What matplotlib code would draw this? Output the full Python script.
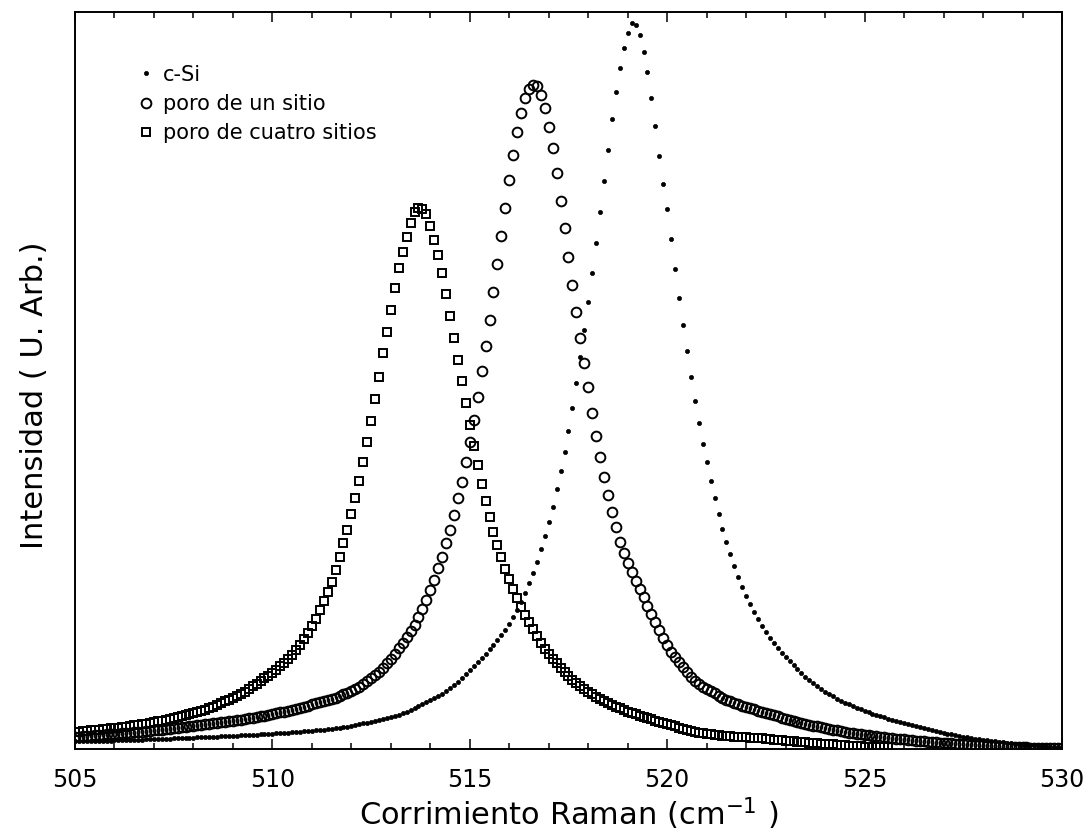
import numpy as np
import matplotlib
matplotlib.use("Agg")
import matplotlib.pyplot as plt

# Corrimiento Raman (cm-1), malla de 0.1
raman = np.round(np.arange(505.0, 530.05, 0.1), 1)

# intensidades (unidades arbitrarias)
c_si = [
    8, 8, 8, 8, 8, 8, 8, 8, 8, 8,
    9, 9, 9, 9, 9, 9, 9, 9, 10, 10,
    10, 10, 10, 10, 10, 11, 11, 11, 11, 11,
    11, 12, 12, 12, 12, 12, 12, 13, 13, 13,
    13, 13, 14, 14, 14, 14, 14, 15, 15, 15,
    15, 16, 16, 16, 16, 17, 17, 17, 18, 18,
    18, 19, 19, 19, 20, 20, 21, 21, 22, 22,
    23, 24, 25, 26, 26, 27, 28, 29, 30, 31,
    32, 33, 34, 36, 37, 39, 41, 43, 45, 47,
    49, 51, 53, 55, 58, 61, 64, 67, 71, 75,
    79, 83, 87, 91, 95, 100, 104, 109, 114, 119,
    125, 132, 139, 147, 156, 166, 176, 187, 200, 213,
    227, 242, 260, 278, 297, 318, 341, 366, 392, 419,
    447, 476, 506, 537, 568, 599, 630, 657, 681, 701,
    716, 726, 724, 714, 697, 677, 651, 623, 593, 565,
    540, 510, 480, 451, 424, 398, 372, 348, 326, 305,
    287, 268, 251, 235, 220, 207, 195, 183, 172, 162,
    153, 145, 137, 130, 123, 117, 111, 106, 101, 96,
    92, 88, 84, 80, 76, 72, 69, 66, 63, 60,
    57, 55, 53, 50, 48, 46, 45, 43, 41, 40,
    38, 37, 35, 34, 33, 32, 30, 29, 28, 27,
    26, 25, 24, 23, 22, 21, 20, 19, 18, 17,
    16, 15, 15, 14, 13, 12, 12, 11, 10, 10,
    9, 9, 8, 8, 7, 7, 6, 6, 5, 5,
    5, 4, 4, 4, 3, 3, 3, 2, 2, 2,
    2,
]

un_sitio = [
    12, 12, 13, 13, 13, 14, 14, 14, 15, 15,
    15, 15, 16, 16, 16, 17, 17, 17, 18, 18,
    19, 19, 19, 20, 20, 21, 21, 22, 22, 23,
    23, 24, 24, 25, 25, 26, 26, 27, 27, 28,
    28, 29, 29, 30, 31, 31, 32, 33, 33, 34,
    35, 36, 37, 37, 38, 39, 40, 41, 42, 43,
    45, 46, 47, 48, 49, 50, 51, 53, 55, 56,
    58, 60, 62, 65, 68, 71, 74, 77, 81, 86,
    90, 95, 101, 106, 112, 118, 124, 132, 140, 149,
    159, 169, 181, 192, 206, 219, 234, 251, 267, 287,
    307, 329, 352, 378, 403, 429, 457, 485, 513, 541,
    569, 594, 617, 636, 651, 660, 664, 663, 654, 641,
    622, 601, 576, 548, 521, 492, 464, 437, 411, 386,
    362, 336, 313, 292, 272, 254, 237, 222, 207, 196,
    186, 177, 168, 160, 152, 143, 135, 127, 119, 111,
    104, 97, 92, 87, 82, 77, 72, 68, 65, 62,
    60, 58, 56, 53, 51, 49, 48, 46, 45, 43,
    42, 41, 40, 38, 37, 36, 35, 34, 33, 31,
    30, 29, 28, 27, 26, 25, 24, 23, 23, 22,
    21, 20, 19, 19, 18, 17, 16, 16, 15, 15,
    14, 14, 13, 13, 12, 12, 11, 11, 10, 10,
    10, 9, 9, 8, 8, 8, 7, 7, 7, 6,
    6, 6, 6, 5, 5, 5, 5, 4, 4, 4,
    4, 3, 3, 3, 3, 3, 2, 2, 2, 2,
    2, 2, 1, 1, 1, 1, 1, 1, 1, 1,
    1,
]

# esta serie termina en 525.6
cuatro_sitios = [
    17, 17, 18, 18, 19, 19, 19, 20, 20, 21,
    21, 21, 22, 22, 23, 24, 24, 25, 25, 26,
    27, 28, 28, 29, 30, 31, 32, 33, 34, 35,
    36, 37, 38, 39, 41, 42, 44, 46, 48, 49,
    51, 53, 55, 57, 60, 63, 65, 68, 71, 73,
    76, 79, 83, 86, 90, 94, 99, 104, 110, 116,
    123, 130, 139, 148, 157, 167, 179, 192, 206, 219,
    235, 251, 268, 287, 307, 328, 350, 372, 396, 417,
    439, 461, 481, 497, 512, 526, 537, 541, 540, 535,
    523, 509, 494, 476, 455, 433, 411, 389, 368, 346,
    324, 303, 284, 265, 248, 232, 217, 204, 192, 180,
    170, 160, 151, 142, 134, 127, 120, 113, 106, 100,
    95, 90, 86, 81, 77, 73, 69, 66, 63, 60,
    57, 55, 52, 50, 48, 46, 44, 42, 41, 39,
    37, 36, 35, 33, 32, 31, 30, 28, 27, 26,
    25, 24, 23, 21, 20, 19, 18, 17, 16, 16,
    15, 15, 14, 14, 13, 13, 13, 12, 12, 12,
    12, 11, 11, 11, 11, 10, 10, 9, 9, 9,
    8, 8, 8, 7, 7, 7, 6, 6, 6, 5,
    5, 5, 5, 4, 4, 4, 3, 3, 3, 3,
    2, 2, 2, 2, 2, 2, 2,
]

fig = plt.figure(figsize=(10.9, 8.34), dpi=100)
ax = fig.add_axes([0.0688, 0.1019, 0.9055, 0.8837])

ax.plot(raman, c_si, ls='none', marker='o', ms=3,
        mfc='black', mec='black', mew=0.5, label='c-Si')
ax.plot(raman, un_sitio, ls='none', marker='o', ms=7,
        mfc='none', mec='black', mew=1.4, label='poro de un sitio')
ax.plot(raman[:len(cuatro_sitios)], cuatro_sitios, ls='none', marker='s', ms=6,
        mfc='none', mec='black', mew=1.4, label='poro de cuatro sitios')

ax.set_xlim(505, 530)
ax.set_ylim(0, 737)
ax.set_xticks([505, 510, 515, 520, 525, 530])
ax.set_xticks(np.arange(505, 531, 1), minor=True)
ax.set_yticks([])
ax.tick_params(axis='x', which='both', direction='in', top=True, bottom=True,
               width=1.1, labelsize=17, pad=14)
ax.tick_params(axis='x', which='major', length=7)
ax.tick_params(axis='x', which='minor', length=4)
for s in ax.spines.values():
    s.set_linewidth(1.4)

ax.set_xlabel('Corrimiento Raman (cm$^{-1}$ )', fontsize=22, labelpad=2)
ax.set_ylabel('Intensidad ( U. Arb.)', fontsize=22)
ax.yaxis.set_label_coords(-0.026, 0.48)

ax.legend(loc='upper left', bbox_to_anchor=(0.055, 0.94), frameon=False,
          fontsize=15, handlelength=0.8, handletextpad=0.4,
          labelspacing=0.45, borderaxespad=0)

plt.savefig('out.png', dpi=100)
